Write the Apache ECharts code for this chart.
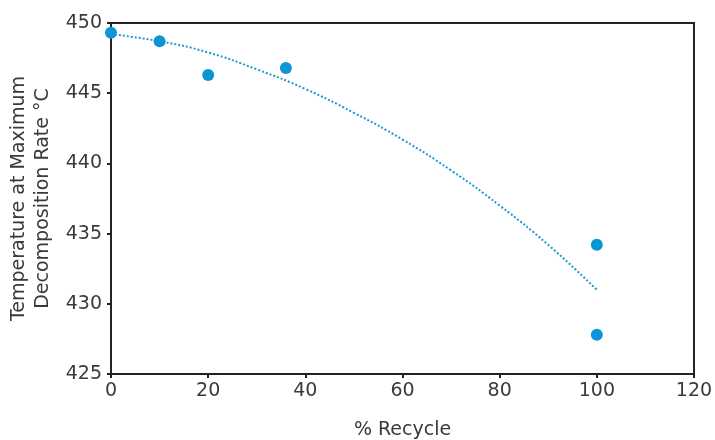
<!DOCTYPE html>
<html>
<head>
<meta charset="utf-8">
<script src="https://cdn.jsdelivr.net/npm/echarts@6/dist/echarts.min.js"></script>
<style>html,body{margin:0;padding:0;background:#fff}#c{width:715px;height:440px}</style>
</head>
<body>
<div id="c"></div>
<script>
var recyclePct = [0, 10, 20, 36, 100, 100];
var tempMax = [449.3, 448.7, 446.3, 446.8, 434.2, 427.8];
var trendX = [0, 10, 20, 30, 40, 50, 60, 70, 80, 90, 100];
var trendY = [449.2, 448.7, 447.9, 446.7, 445.3, 443.6, 441.7, 439.5, 437.0, 434.2, 431.0];

var font = 'DejaVu Sans';
var txt = '#3a3a3a';
var chart = echarts.init(document.getElementById('c'));
chart.setOption({
  animation: false,
  grid: { left: 111, right: 21, top: 23, bottom: 66, show: true, borderColor: '#222', borderWidth: 2,
          containLabel: false, outerBoundsMode: 'none' },
  xAxis: {
    type: 'value', min: 0, max: 120, interval: 20,
    name: '% Recycle', nameLocation: 'middle', nameGap: 47,
    nameTextStyle: { fontFamily: font, fontSize: 19, color: txt },
    axisLine: { show: true, lineStyle: { color: '#222', width: 2 } },
    axisTick: { show: true, length: 4, lineStyle: { color: '#222', width: 2 } },
    axisLabel: { fontFamily: font, fontSize: 19, color: txt, margin: 8 },
    splitLine: { show: false }
  },
  yAxis: {
    type: 'value', min: 425, max: 450, interval: 5,
    name: 'Temperature at Maximum\nDecomposition Rate °C', nameLocation: 'middle', nameGap: 56,
    nameTextStyle: { fontFamily: font, fontSize: 19, color: txt, lineHeight: 24 },
    axisLine: { show: true, lineStyle: { color: '#222', width: 2 } },
    axisTick: { show: true, length: 4, lineStyle: { color: '#222', width: 2 } },
    axisLabel: { fontFamily: font, fontSize: 19, color: txt, margin: 9 },
    splitLine: { show: false }
  },
  series: [
    {
      type: 'line', data: trendX.map(function (x, i) { return [x, trendY[i]]; }),
      smooth: true, showSymbol: false, symbol: 'none',
      lineStyle: { color: '#1a9ad6', width: 2, type: [2, 2] }, z: 1
    },
    {
      type: 'scatter', data: recyclePct.map(function (x, i) { return [x, tempMax[i]]; }),
      symbolSize: 12, itemStyle: { color: '#0a96d6', opacity: 1 }, z: 2
    }
  ]
});
</script>
</body>
</html>
